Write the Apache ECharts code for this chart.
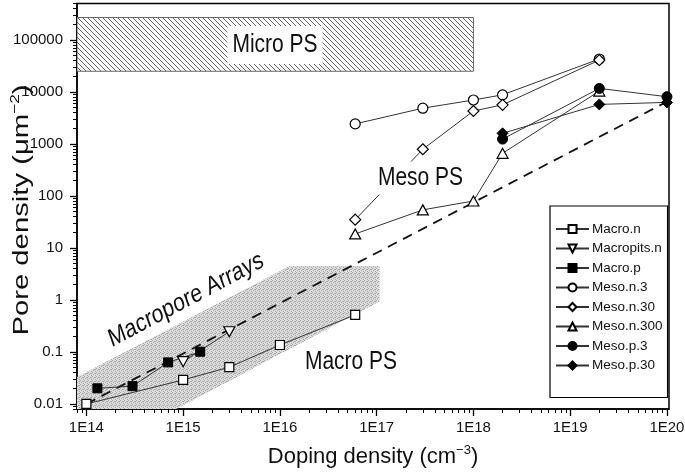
<!DOCTYPE html>
<html>
<head>
<meta charset="utf-8">
<script src="https://cdn.jsdelivr.net/npm/echarts@6/dist/echarts.min.js"></script>
<style>html,body{margin:0;padding:0;background:#fff}#c{width:685px;height:473px}</style>
</head>
<body>
<div id="c"></div>
<script>
// ---- data (doping density cm^-3, pore density um^-2) ----
const macroN_x = [1e14, 1e15, 3e15, 1e16, 6e16];
const macroN_y = [0.01, 0.029, 0.051, 0.136, 0.515];
const macropitsN_x = [1e15, 3e15];
const macropitsN_y = [0.065, 0.245];
const macroP_x = [1.3e14, 3e14, 7e14, 1.5e15];
const macroP_y = [0.020, 0.022, 0.063, 0.101];
const mesoN3_x = [6e16, 3e17, 1e18, 2e18, 2e19];
const mesoN3_y = [2430, 4870, 7000, 8800, 43000];
const mesoN30_x = [6e16, 3e17, 1e18, 2e18, 2e19];
const mesoN30_y = [35, 790, 4300, 5650, 41000];
const mesoN300_x = [6e16, 3e17, 1e18, 2e18, 2e19];
const mesoN300_y = [18.6, 54, 80, 660, 10400];
const mesoP3_x = [2e18, 2e19, 1e20];
const mesoP3_y = [1240, 11700, 8100];
const mesoP30_x = [2e18, 2e19, 1e20];
const mesoP30_y = [1600, 5760, 6300];
const trend_x = [1e14, 1e20];
const trend_y = [0.01, 6500];
// shaded regions
const microBox_x = [8e13, 1e18];
const microBox_y = [25000, 270000];
const macroArr_x = [8e13, 8e13, 1.26e16, 1.07e17, 1.07e17, 8.5e14];
const macroArr_y = [0.008, 0.033, 4.5, 4.5, 0.93, 0.008];
// axes
const xMin = 8e13, xMax = 1.05e20;
const yMin = 0.008, yMax = 5e5;
const xMajor = [14, 15, 16, 17, 18, 19, 20];
const yMajor = [-2, -1, 0, 1, 2, 3, 4, 5];
const yMajorLabels = ['0.01', '0.1', '1', '10', '100', '1000', '10000', '100000'];

const lg = Math.log10;
const FONT = 'Liberation Sans';
function minorTicks(lo, hi) {
  const out = [];
  for (let n = Math.floor(lo) - 1; n <= Math.ceil(hi); n++) {
    for (let k = 2; k <= 9; k++) {
      const v = n + lg(k);
      if (v >= lo && v <= hi) out.push(v);
    }
  }
  return out;
}
function pts(xs, ys) { return xs.map((x, i) => [lg(x), lg(ys[i])]); }

function hatch() {
  const s = 5, c = document.createElement('canvas'); c.width = s; c.height = s;
  const g = c.getContext('2d');
  g.fillStyle = '#fff'; g.fillRect(0, 0, s, s);
  g.strokeStyle = '#555'; g.lineWidth = 0.9;
  g.beginPath();
  g.moveTo(-1, -1); g.lineTo(s + 1, s + 1);
  g.moveTo(-s - 1, -1); g.lineTo(1, s + 1);
  g.moveTo(s - 1, -1); g.lineTo(2 * s + 1, s + 1);
  g.stroke();
  return c;
}
function stipple() {
  const c = document.createElement('canvas'); c.width = 4; c.height = 4;
  const g = c.getContext('2d');
  g.fillStyle = '#dedede'; g.fillRect(0, 0, 4, 4);
  g.fillStyle = '#a4a4a4';
  [[0, 0], [2, 1], [1, 2], [3, 3], [3, 1]].forEach(p => g.fillRect(p[0], p[1], 1, 1));
  return c;
}

const openStyle = { color: '#fff', borderColor: '#000', borderWidth: 1.2 };
const fillStyle = { color: '#000', borderColor: '#000', borderWidth: 1 };
const lineSt = { color: '#333', width: 1 };
function ser(name, xs, ys, symbol, size, filled) {
  return {
    name, type: 'line', data: pts(xs, ys), symbol, symbolSize: size,
    itemStyle: filled ? fillStyle : openStyle, lineStyle: lineSt,
    showAllSymbol: true, z: 3, animation: false
  };
}
const downTri = 'path://M0,0 L10,0 L5,9 Z';

const chart = echarts.init(document.getElementById('c'), null, { renderer: 'canvas' });
const xLo = lg(xMin), xHi = lg(xMax), yLo = lg(yMin), yHi = lg(yMax);
const axisBase = { type: 'value', splitLine: { show: false } };
const nameRich = { m: { fontSize: 22, fontFamily: FONT, color: '#111', lineHeight: 26 }, s: { fontSize: 13, fontFamily: FONT, color: '#111', verticalAlign: 'top', lineHeight: 13 } };
const VS = 1.22; // vertical stretch of lettering in the reference

chart.setOption({
  animation: false,
  textStyle: { fontFamily: FONT },
  grid: { left: 77, right: 16, top: 3.6, bottom: 64, containLabel: false, outerBoundsMode: 'none', show: true, borderColor: '#000', borderWidth: 1.5, backgroundColor: 'transparent' },
  xAxis: [
    Object.assign({}, axisBase, {
      min: xLo, max: xHi, position: 'bottom',
      name: '{m|Doping density (cm}{s|−3}{m|)}', nameLocation: 'middle', nameGap: 35, nameMoveOverlap: false,
      nameTextStyle: { rich: nameRich },
      axisLine: { onZero: false, lineStyle: { color: '#000', width: 1.5 } },
      axisTick: { customValues: xMajor, length: 7, lineStyle: { color: '#000', width: 1.3 } },
      axisLabel: { customValues: xMajor, formatter: v => '1E' + Math.round(v), fontSize: 15, color: '#111', margin: 11, fontFamily: FONT }
    }),
    Object.assign({}, axisBase, {
      min: xLo, max: xHi, position: 'bottom',
      axisLine: { show: false, onZero: false },
      axisTick: { customValues: minorTicks(xLo, xHi), length: 4, lineStyle: { color: '#000', width: 1 } },
      axisLabel: { show: false }
    })
  ],
  yAxis: [
    Object.assign({}, axisBase, {
      min: yLo, max: yHi, position: 'left',
      axisLine: { onZero: false, lineStyle: { color: '#000', width: 1.5 } },
      axisTick: { customValues: yMajor, length: 7, lineStyle: { color: '#000', width: 1.3 } },
      axisLabel: { customValues: yMajor, formatter: v => yMajorLabels[yMajor.indexOf(Math.round(v))], fontSize: 15, color: '#111', margin: 14, fontFamily: FONT }
    }),
    Object.assign({}, axisBase, {
      min: yLo, max: yHi, position: 'left',
      axisLine: { show: false, onZero: false },
      axisTick: { customValues: minorTicks(yLo, yHi), length: 4, lineStyle: { color: '#000', width: 1 } },
      axisLabel: { show: false }
    })
  ],
  legend: {
    data: ['Macro.n', 'Macropits.n', 'Macro.p', 'Meso.n.3', 'Meso.n.30', 'Meso.n.300', 'Meso.p.3', 'Meso.p.30'],
    orient: 'vertical', left: 550, top: 206,
    itemWidth: 33, itemHeight: 10, itemGap: 5.5,
    padding: [16, 5, 25, 5],
    borderColor: '#000', borderWidth: 1.2, backgroundColor: '#fff',
    textStyle: { fontSize: 13.5, color: '#111', fontFamily: FONT, lineHeight: 14, padding: [0, 0, 0, -2] },
    selectedMode: false
  },
  series: [
    {
      type: 'custom', silent: true, clip: true, z: 1, data: [[14, 0]],
      renderItem: (p, api) => ({
        type: 'polygon',
        shape: { points: macroArr_x.map((x, i) => api.coord([lg(x), lg(macroArr_y[i])])) },
        style: { fill: { image: stipple(), repeat: 'repeat' }, stroke: null }
      })
    },
    {
      type: 'custom', silent: true, clip: true, z: 1, data: [[14, 0]],
      renderItem: (p, api) => {
        const a = api.coord([lg(microBox_x[0]), lg(microBox_y[1])]);
        const b = api.coord([lg(microBox_x[1]), lg(microBox_y[0])]);
        return {
          type: 'rect', shape: { x: a[0], y: a[1], width: b[0] - a[0], height: b[1] - a[1] },
          style: { fill: { image: hatch(), repeat: 'repeat' }, stroke: '#666', lineWidth: 1 }
        };
      }
    },
    {
      name: 'trend', type: 'line', data: pts(trend_x, trend_y), symbol: 'none', z: 2,
      lineStyle: { color: '#111', width: 1.8, type: [10, 7] }
    },
    ser('Macro.n', macroN_x, macroN_y, 'rect', 9, false),
    ser('Macropits.n', macropitsN_x, macropitsN_y, downTri, [11, 10], false),
    ser('Macro.p', macroP_x, macroP_y, 'rect', 9, true),
    ser('Meso.n.3', mesoN3_x, mesoN3_y, 'circle', 10, false),
    ser('Meso.n.30', mesoN30_x, mesoN30_y, 'diamond', 11, false),
    ser('Meso.n.300', mesoN300_x, mesoN300_y, 'triangle', [11, 10], false),
    ser('Meso.p.3', mesoP3_x, mesoP3_y, 'circle', 10, true),
    ser('Meso.p.30', mesoP30_x, mesoP30_y, 'diamond', 11, true)
  ],
  graphic: [
    { type: 'text', z: 100, x: 22, y: 210, rotation: Math.PI / 2, scaleX: 1.33,
      style: { text: '{m|Pore density (μm}{s|−2}{m|)}', rich: nameRich, align: 'center', verticalAlign: 'middle', fill: '#111' } },
    { type: 'text', z: 100, x: 275, y: 45, scaleY: VS, style: { text: 'Micro PS', font: '21px "Liberation Sans"', fill: '#111', align: 'center', verticalAlign: 'middle', backgroundColor: '#fff', padding: [5, 5] } },
    { type: 'text', z: 100, x: 420.5, y: 178, scaleY: VS, style: { text: 'Meso PS', font: '21px "Liberation Sans"', fill: '#111', align: 'center', verticalAlign: 'middle', backgroundColor: '#fff', padding: [3, 3] } },
    { type: 'text', z: 100, x: 351, y: 362, scaleY: VS, style: { text: 'Macro PS', font: '21px "Liberation Sans"', fill: '#111', align: 'center', verticalAlign: 'middle' } },
    { type: 'group', x: 186, y: 300, scaleY: VS, z: 100, children: [
      { type: 'text', z: 100, x: 0, y: 0, rotation: Math.atan(Math.tan(28 * Math.PI / 180) / VS), style: { text: 'Macropore Arrays', font: '21px "Liberation Sans"', fill: '#111', align: 'center', verticalAlign: 'middle' } }
    ] }
  ]
});
</script>
</body>
</html>
